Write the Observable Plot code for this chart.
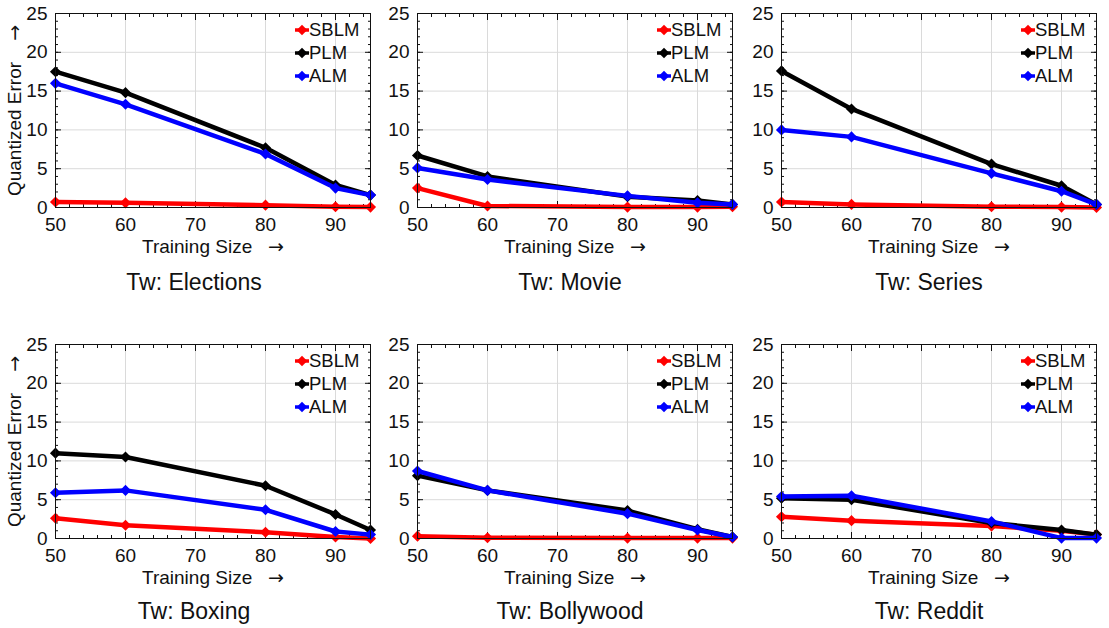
<!DOCTYPE html>
<html><head><meta charset="utf-8">
<script src="https://cdn.jsdelivr.net/npm/d3@7"></script>
<script src="https://cdn.jsdelivr.net/npm/@observablehq/plot@0.6"></script>
<style>
body{margin:0;background:#fff;font-family:"Liberation Sans",Arial,sans-serif;}
#wrap{position:relative;width:1109px;height:628px;overflow:hidden;background:#fff;}
.panel{position:absolute;}
.title{position:absolute;font-size:23px;line-height:23px;text-align:center;width:300px;white-space:nowrap;color:#111;}
.legend{position:absolute;font-size:18.5px;line-height:22.75px;color:#111;}
.legend .row{display:flex;align-items:center;height:22.75px;}
.legend svg{display:block;}
</style></head><body><div id="wrap"></div>
<script>
// ---- data ----
const trainingSizes = [50, 60, 80, 90, 95];
const datasetNames = ["Tw: Elections", "Tw: Movie", "Tw: Series", "Tw: Boxing", "Tw: Bollywood", "Tw: Reddit"];
const modelNames = ["SBLM", "PLM", "ALM"];
const modelColors = ["#ff0000", "#000000", "#0000ff"];
const xTickValues = [50, 60, 70, 80, 90];
const yTickValues = [0, 5, 10, 15, 20, 25];
const xMinorTicks = d3.range(50, 96, 2);
const yMinorTicks = d3.range(0, 26, 1);
// one row per dataset, values at trainingSizes
const sblmErrors = [
  [0.7, 0.6, 0.3, 0.1, 0.05],
  [2.5, 0.2, 0.05, 0.05, 0.1],
  [0.7, 0.4, 0.1, 0.05, 0.0],
  [2.6, 1.7, 0.8, 0.2, 0.0],
  [0.3, 0.1, 0.05, 0.05, 0.05],
  [2.8, 2.3, 1.6, 1.0, 0.5]
];
const plmErrors = [
  [17.5, 14.8, 7.7, 2.9, 1.6],
  [6.7, 4.0, 1.4, 0.9, 0.4],
  [17.6, 12.7, 5.6, 2.8, 0.4],
  [11.0, 10.5, 6.8, 3.1, 1.1],
  [8.1, 6.2, 3.6, 1.2, 0.2],
  [5.2, 5.0, 2.0, 1.1, 0.5]
];
const almErrors = [
  [16.0, 13.3, 6.9, 2.5, 1.6],
  [5.1, 3.6, 1.5, 0.6, 0.4],
  [10.0, 9.1, 4.4, 2.1, 0.4],
  [5.9, 6.2, 3.7, 0.9, 0.5],
  [8.7, 6.2, 3.2, 1.1, 0.2],
  [5.4, 5.5, 2.2, 0.05, 0.05]
];
const seriesErrors = [sblmErrors, plmErrors, almErrors];

// ---- layout ----
const frameLefts = [55, 417, 781];
const frameTops = [13, 344];
const frameW = 315, frameH = 194;
const mL = 55, mR = 10, mT = 5, mB = 60;
const titleCenters = [194, 570, 929];

const wrap = document.getElementById("wrap");
const font = "'Liberation Sans', Arial, Helvetica, sans-serif";
const NB = "\u00a0";

datasetNames.forEach((name, i) => {
  const col = i % 3, row = Math.floor(i / 3);
  const leftCol = col === 0;
  const marks = [
    Plot.gridX({ticks: xTickValues, stroke: "#dadada", strokeOpacity: 1, strokeWidth: 1}),
    Plot.gridY({ticks: yTickValues, stroke: "#dadada", strokeOpacity: 1, strokeWidth: 1}),
    // labels
    Plot.axisX({ticks: xTickValues, tickSize: 0, tickPadding: 10, fontSize: 19, label: "Training Size" + NB.repeat(3) + "\u2192", labelAnchor: "center", labelOffset: 45, fill: "#111"}),
    Plot.axisY({ticks: yTickValues, tickSize: 0, tickPadding: 8, fontSize: 19, label: leftCol ? "Quantized Error" + NB.repeat(4) + "\u2192" : null, labelAnchor: "center", labelOffset: 48, fill: "#111"}),
    // inward minor/major ticks on all sides
    Plot.axisX({anchor: "bottom", ticks: xMinorTicks, tickSize: -3, tickFormat: () => "", label: null}),
    Plot.axisX({anchor: "top", ticks: xMinorTicks, tickSize: -3, tickFormat: () => "", label: null}),
    Plot.axisX({anchor: "bottom", ticks: xTickValues, tickSize: -6, tickFormat: () => "", label: null}),
    Plot.axisX({anchor: "top", ticks: xTickValues, tickSize: -6, tickFormat: () => "", label: null}),
    Plot.axisY({anchor: "left", ticks: yMinorTicks, tickSize: -3, tickFormat: () => "", label: null}),
    Plot.axisY({anchor: "right", ticks: yMinorTicks, tickSize: -3, tickFormat: () => "", label: null}),
    Plot.axisY({anchor: "left", ticks: yTickValues, tickSize: -6, tickFormat: () => "", label: null}),
    Plot.axisY({anchor: "right", ticks: yTickValues, tickSize: -6, tickFormat: () => "", label: null})
  ];
  modelNames.forEach((m, mi) => {
    const rows = trainingSizes.map((t, ti) => ({size: t, error: seriesErrors[mi][i][ti]}));
    marks.push(Plot.line(rows, {x: "size", y: "error", stroke: modelColors[mi], strokeWidth: 4.5}));
    marks.push(Plot.dot(rows, {x: "size", y: "error", fill: modelColors[mi], symbol: "diamond2", r: 5}));
  });
  marks.push(Plot.frame({stroke: "#111", strokeWidth: 1}));

  const chart = Plot.plot({
    width: mL + frameW + mR,
    height: mT + frameH + mB,
    marginLeft: mL, marginRight: mR, marginTop: mT, marginBottom: mB,
    style: {fontFamily: font, fontSize: "18.5px", background: "transparent", overflow: "visible", color: "#111"},
    x: {domain: [50, 95]},
    y: {domain: [0, 25]},
    marks
  });
  // render the arrow of axis labels with a long, thin glyph
  chart.querySelectorAll("text").forEach(t => {
    const s = t.textContent;
    const k = s.indexOf("\u2192");
    if (k >= 0 && !t.querySelector("tspan")) {
      t.textContent = s.slice(0, k);
      const ts = document.createElementNS("http://www.w3.org/2000/svg", "tspan");
      ts.setAttribute("font-family", "DejaVu Sans");
      ts.textContent = "\u2192";
      t.appendChild(ts);
    }
  });
  chart.classList.add("panel");
  chart.style.left = (frameLefts[col] - mL) + "px";
  chart.style.top = (frameTops[row] - mT) + "px";
  wrap.appendChild(chart);

  // title
  const t = document.createElement("div");
  t.className = "title";
  t.textContent = name;
  t.style.left = (titleCenters[col] - 150) + "px";
  t.style.top = (row === 0 ? 271 : 600) + "px";
  wrap.appendChild(t);

  // legend
  const lg = document.createElement("div");
  lg.className = "legend";
  lg.style.left = (frameLefts[col] + 240) + "px";
  lg.style.top = (frameTops[row] + 6) + "px";
  modelNames.forEach((m, mi) => {
    const r = document.createElement("div");
    r.className = "row";
    const sym = d3.create("svg").attr("width", 14).attr("height", 12);
    sym.append("line").attr("x1", 0).attr("x2", 14).attr("y1", 6).attr("y2", 6).attr("stroke", modelColors[mi]).attr("stroke-width", 3.5);
    sym.append("path").attr("d", d3.symbol(d3.symbolDiamond2, 70)()).attr("transform", "translate(7,6)").attr("fill", modelColors[mi]);
    r.appendChild(sym.node());
    const s = document.createElement("span");
    s.textContent = m;
    r.appendChild(s);
    lg.appendChild(r);
  });
  wrap.appendChild(lg);
});
</script>
</body></html>
